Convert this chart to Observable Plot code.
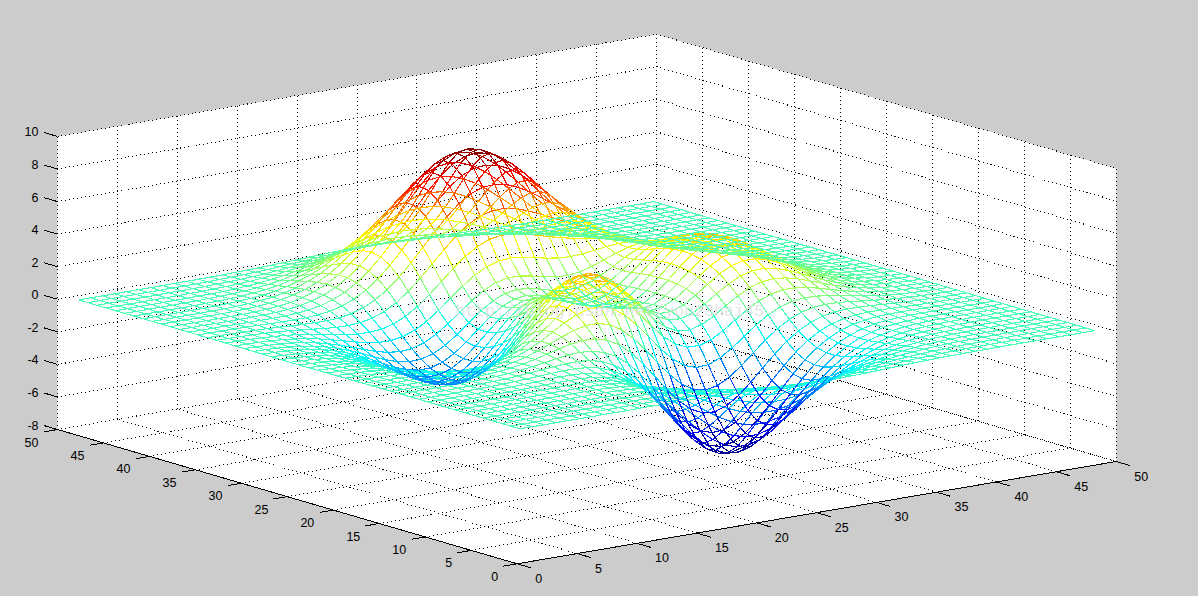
<!DOCTYPE html>
<html>
<head>
<meta charset="utf-8">
<script src="https://cdn.jsdelivr.net/npm/d3@7"></script>
<script src="https://cdn.jsdelivr.net/npm/@observablehq/plot@0.6"></script>
<style>html,body{margin:0;padding:0;background:#ccc}svg{display:block}</style>
</head>
<body>
<script>
// Axis ticks
const xTicks = [0,5,10,15,20,25,30,35,40,45,50];
const yTicks = [0,5,10,15,20,25,30,35,40,45,50];
const zTicks = [-8,-6,-4,-2,0,2,4,6,8,10];
const watermark = "http://blog.csdn.net/you23hai45";
const jetDomain = [-6.55, 8.1];

// Mesh heights: 49 rows (y = 1..49) of 49 values (x = 1..49).
// Typed by hand: the shape was recognised as MATLAB's peaks surface, checked against
// the positions of its extremes in the picture, and tabulated to about 0.02.
const zRows = [
[0,0,0,0,0,0,0,0,0,0, .01,.01,0,0,-.01,-.01,-.03,-.05,-.08,-.10, -.14,-.17,-.20,-.23,-.25,-.25,-.25,-.24,-.22,-.20, -.17,-.14,-.11,-.08,-.06,-.04,-.03,-.02,-.01,-.01, 0,0,0,0,0,0,0,0,0],
[0,0,0,0,0,0,0,0,.01,.01, .01,.01,0,0,-.01,-.03,-.06,-.09,-.14,-.19, -.24,-.30,-.35,-.39,-.42,-.44,-.43,-.41,-.38,-.34, -.29,-.24,-.19,-.14,-.11,-.08,-.05,-.03,-.02,-.01, -.01,0,0,0,0,0,0,0,0],
[0,0,0,0,0,0,0,.01,.01,.01, .01,.01,0,-.01,-.02,-.05,-.10,-.15,-.22,-.30, -.39,-.48,-.56,-.63,-.68,-.70,-.70,-.66,-.61,-.54, -.46,-.38,-.30,-.23,-.17,-.12,-.08,-.06,-.04,-.02, -.01,-.01,-.01,0,0,0,0,0,0],
[0,0,0,0,0,0,.01,.01,.01,.01, .01,.01,0,-.01,-.04,-.09,-.16,-.24,-.35,-.48, -.61,-.75,-.88,-.98,-1.06,-1.09,-1.08,-1.03,-.95,-.84, -.71,-.59,-.46,-.35,-.26,-.18,-.13,-.08,-.05,-.03, -.02,-.01,-.01,0,0,0,0,0,0],
[0,0,0,0,0,.01,.01,.01,.02,.02, .02,.02,0,-.02,-.07,-.13,-.23,-.36,-.52,-.71, -.91,-1.11,-1.30,-1.46,-1.56,-1.61,-1.60,-1.53,-1.40,-1.24, -1.06,-.87,-.69,-.52,-.38,-.27,-.18,-.12,-.08,-.05, -.03,-.02,-.01,-.01,0,0,0,0,0],
[0,0,0,0,.01,.01,.01,.02,.02,.02, .03,.02,0,-.03,-.10,-.19,-.33,-.51,-.74,-1.01, -1.30,-1.58,-1.85,-2.07,-2.23,-2.30,-2.28,-2.18,-2.00,-1.77, -1.51,-1.24,-.98,-.74,-.54,-.38,-.26,-.17,-.10,-.06, -.04,-.02,-.01,-.01,0,0,0,0,0],
[0,0,0,0,.01,.01,.01,.02,.03,.03, .04,.03,.01,-.04,-.12,-.25,-.44,-.69,-1.00,-1.35, -1.74,-2.14,-2.51,-2.81,-3.02,-3.12,-3.10,-2.96,-2.72,-2.41, -2.05,-1.68,-1.32,-1.00,-.74,-.52,-.35,-.22,-.14,-.08, -.05,-.03,-.01,-.01,0,0,0,0,0],
[0,0,0,0,.01,.01,.02,.03,.04,.05, .05,.05,.02,-.04,-.14,-.30,-.54,-.85,-1.24,-1.71, -2.21,-2.73,-3.21,-3.61,-3.90,-4.03,-4.01,-3.83,-3.53,-3.12, -2.65,-2.17,-1.71,-1.30,-.94,-.66,-.44,-.28,-.17,-.10, -.06,-.03,-.01,-.01,0,0,0,0,0],
[0,0,0,0,.01,.01,.02,.03,.05,.06, .07,.07,.04,-.02,-.13,-.32,-.59,-.97,-1.45,-2.01, -2.64,-3.28,-3.88,-4.39,-4.76,-4.94,-4.93,-4.72,-4.35,-3.85, -3.27,-2.68,-2.10,-1.59,-1.15,-.80,-.53,-.34,-.20,-.12, -.06,-.03,-.01,-.01,0,0,0,0,0],
[0,0,0,.01,.01,.02,.03,.04,.06,.08, .10,.10,.09,.04,-.08,-.27,-.58,-1.00,-1.54,-2.20, -2.93,-3.69,-4.41,-5.03,-5.49,-5.73,-5.74,-5.51,-5.08,-4.50, -3.82,-3.12,-2.44,-1.83,-1.32,-.91,-.59,-.37,-.22,-.12, -.06,-.03,-.01,0,0,0,0,0,0],
[0,0,0,.01,.01,.02,.03,.05,.07,.10, .13,.15,.15,.12,.02,-.16,-.46,-.90,-1.48,-2.19, -3.01,-3.86,-4.70,-5.43,-5.98,-6.29,-6.33,-6.10,-5.64,-5.00, -4.24,-3.45,-2.69,-2.00,-1.42,-.96,-.61,-.37,-.20,-.10, -.05,-.01,0,0,.01,0,0,0,0],
[0,0,0,0,.01,.02,.03,.05,.08,.12, .16,.20,.24,.24,.18,.04,-.22,-.63,-1.19,-1.92, -2.77,-3.69,-4.60,-5.42,-6.06,-6.45,-6.55,-6.35,-5.89,-5.22, -4.42,-3.58,-2.76,-2.03,-1.41,-.93,-.57,-.32,-.16,-.06, -.01,.01,.02,.02,.02,.01,.01,0,0],
[0,0,0,0,.01,.01,.03,.05,.08,.13, .19,.26,.33,.38,.39,.33,.15,-.18,-.68,-1.36, -2.18,-3.11,-4.07,-4.96,-5.68,-6.15,-6.32,-6.18,-5.76,-5.11, -4.31,-3.46,-2.63,-1.89,-1.27,-.79,-.44,-.21,-.07,.01, .04,.05,.05,.04,.03,.02,.01,.01,0],
[0,0,0,0,0,0,.01,.03,.07,.12, .19,.29,.41,.53,.63,.67,.61,.41,.04,-.53, -1.28,-2.17,-3.12,-4.05,-4.83,-5.39,-5.65,-5.60,-5.25,-4.65, -3.90,-3.08,-2.29,-1.57,-.98,-.53,-.22,-.03,.08,.12, .12,.11,.08,.06,.04,.03,.02,.01,.01],
[0,-.01,-.01,-.01,-.01,-.02,-.01,0,.03,.08, .17,.29,.45,.64,.84,1.01,1.10,1.08,.88,.48, -.14,-.94,-1.85,-2.77,-3.61,-4.24,-4.60,-4.66,-4.40,-3.90, -3.22,-2.47,-1.74,-1.08,-.56,-.17,.08,.22,.27,.26, .23,.18,.13,.09,.06,.04,.02,.01,.01],
[-.01,-.01,-.02,-.02,-.03,-.04,-.05,-.05,-.03,.01, .09,.23,.42,.68,.98,1.28,1.55,1.73,1.74,1.53, 1.09,.43,-.40,-1.30,-2.16,-2.87,-3.32,-3.48,-3.34,-2.94, -2.36,-1.69,-1.04,-.47,-.02,.29,.46,.52,.50,.44, .35,.27,.19,.13,.09,.05,.03,.02,.01],
[-.01,-.02,-.03,-.04,-.06,-.08,-.10,-.12,-.13,-.11, -.04,.09,.30,.60,.98,1.42,1.86,2.23,2.45,2.47, 2.22,1.72,1.00,.14,-.73,-1.48,-2.02,-2.27,-2.22,-1.92, -1.43,-.85,-.27,.22,.58,.80,.88,.86,.77,.64, .50,.37,.26,.18,.11,.07,.04,.02,.01],
[-.01,-.02,-.04,-.06,-.09,-.13,-.17,-.22,-.26,-.28, -.24,-.14,.07,.39,.83,1.36,1.95,2.50,2.93,3.15, 3.11,2.77,2.16,1.37,.51,-.27,-.86,-1.18,-1.21,-.97, -.54,-.02,.49,.91,1.20,1.34,1.33,1.23,1.06,.85, .66,.48,.34,.22,.14,.09,.05,.03,.02],
[-.02,-.03,-.05,-.08,-.12,-.18,-.26,-.34,-.42,-.49, -.51,-.45,-.28,.03,.50,1.09,1.78,2.48,3.09,3.50, 3.63,3.44,2.95,2.22,1.40,.61,0,-.36,-.41,-.20, .20,.70,1.18,1.56,1.79,1.86,1.78,1.59,1.35,1.08, .82,.60,.41,.28,.18,.11,.06,.04,.02],
[-.02,-.04,-.06,-.10,-.16,-.24,-.35,-.47,-.61,-.73, -.82,-.83,-.72,-.45,0,.63,1.38,2.18,2.92,3.48, 3.76,3.70,3.31,2.66,1.88,1.11,.51,.16,.11,.34, .76,1.27,1.75,2.11,2.31,2.34,2.19,1.94,1.63,1.29, .98,.71,.49,.33,.21,.13,.08,.04,.02],
[-.03,-.05,-.08,-.13,-.20,-.30,-.44,-.61,-.80,-.99, -1.16,-1.25,-1.21,-1.01,-.60,.02,.80,1.66,2.49,3.16, 3.55,3.60,3.31,2.73,2.00,1.27,.69,.39,.39,.67, 1.14,1.67,2.20,2.57,2.76,2.75,2.56,2.25,1.87,1.47, 1.12,.81,.56,.37,.24,.14,.09,.05,.03],
[-.03,-.05,-.09,-.15,-.24,-.36,-.53,-.74,-.98,-1.24, -1.49,-1.66,-1.71,-1.58,-1.23,-.66,.12,1.00,1.89,2.64, 3.11,3.25,3.04,2.53,1.86,1.19,.67,.42,.49,.85, 1.37,1.97,2.53,2.93,3.11,3.08,2.86,2.51,2.09,1.65, 1.24,.90,.62,.41,.26,.16,.09,.05,.03],
[-.03,-.06,-.10,-.17,-.27,-.41,-.60,-.85,-1.14,-1.46, -1.78,-2.03,-2.17,-2.12,-1.84,-1.31,-.56,.32,1.23,2.02, 2.56,2.77,2.63,2.19,1.58,.98,.53,.35,.48,.89, 1.50,2.16,2.76,3.18,3.37,3.33,3.09,2.70,2.25,1.77, 1.34,.97,.67,.44,.28,.17,.10,.06,.03],
[-.04,-.06,-.11,-.18,-.29,-.45,-.66,-.93,-1.26,-1.63, -2.00,-2.32,-2.53,-2.55,-2.34,-1.88,-1.17,-.31,.60,1.41, 2.00,2.26,2.18,1.81,1.27,.74,.35,.23,.43,.90, 1.56,2.27,2.89,3.33,3.53,3.49,3.23,2.82,2.35,1.85, 1.40,1.01,.70,.46,.29,.18,.11,.06,.03],
[-.04,-.07,-.11,-.19,-.30,-.46,-.69,-.98,-1.33,-1.73, -2.14,-2.51,-2.77,-2.86,-2.71,-2.30,-1.65,-.83,.06,.88, 1.48,1.78,1.75,1.45,.98,.51,.19,.13,.38,.89, 1.57,2.30,2.94,3.38,3.58,3.54,3.27,2.86,2.37,1.87, 1.41,1.02,.70,.47,.30,.18,.11,.06,.03],
[-.04,-.07,-.11,-.19,-.30,-.47,-.69,-.99,-1.35,-1.76, -2.20,-2.59,-2.89,-3.02,-2.93,-2.57,-1.98,-1.21,-.36,.43, 1.03,1.36,1.37,1.13,.73,.32,.06,.05,.32,.85, 1.54,2.26,2.89,3.33,3.52,3.48,3.21,2.81,2.33,1.84, 1.39,1.00,.69,.46,.29,.18,.10,.06,.03],
[-.04,-.06,-.11,-.18,-.29,-.45,-.68,-.96,-1.32,-1.73, -2.16,-2.56,-2.88,-3.04,-2.98,-2.68,-2.15,-1.44,-.65,.10, .68,1.01,1.06,.86,.52,.18,-.03,-.01,.28,.80, 1.47,2.16,2.76,3.18,3.36,3.31,3.06,2.68,2.22,1.75, 1.32,.95,.66,.44,.28,.17,.10,.06,.03],
[-.03,-.06,-.10,-.17,-.27,-.42,-.63,-.90,-1.24,-1.63, -2.04,-2.43,-2.74,-2.91,-2.88,-2.63,-2.16,-1.52,-.79,-.10, .45,.77,.84,.69,.41,.13,-.04,0,.28,.77, 1.38,2.02,2.58,2.95,3.12,3.07,2.83,2.47,2.05,1.61, 1.22,.88,.61,.40,.26,.16,.09,.05,.03],
[-.03,-.05,-.09,-.15,-.25,-.38,-.57,-.82,-1.12,-1.47, -1.85,-2.21,-2.49,-2.65,-2.64,-2.42,-2.00,-1.42,-.76,-.13, .39,.71,.80,.69,.46,.23,.09,.13,.38,.80, 1.34,1.90,2.38,2.70,2.83,2.78,2.56,2.23,1.85,1.45, 1.09,.79,.55,.36,.23,.14,.08,.05,.03],
[-.03,-.05,-.08,-.13,-.22,-.33,-.50,-.71,-.98,-1.28, -1.61,-1.92,-2.16,-2.29,-2.27,-2.06,-1.67,-1.13,-.52,.08, .57,.89,1.01,.95,.78,.58,.45,.47,.65,.99, 1.41,1.85,2.22,2.47,2.55,2.48,2.27,1.97,1.62,1.27, .96,.69,.48,.31,.20,.12,.07,.04,.02],
[-.02,-.04,-.07,-.11,-.18,-.28,-.42,-.60,-.82,-1.07, -1.33,-1.58,-1.76,-1.84,-1.78,-1.55,-1.16,-.64,-.05,.54, 1.04,1.39,1.55,1.55,1.42,1.25,1.12,1.08,1.17,1.37, 1.65,1.93,2.17,2.31,2.32,2.21,1.99,1.71,1.40,1.10, .82,.59,.41,.27,.17,.10,.06,.03,.02],
[-.02,-.03,-.05,-.09,-.14,-.22,-.33,-.47,-.65,-.84, -1.03,-1.21,-1.32,-1.33,-1.21,-.94,-.52,.03,.65,1.26, 1.80,2.20,2.43,2.49,2.42,2.27,2.10,1.99,1.95,1.99, 2.08,2.18,2.24,2.24,2.16,2.00,1.76,1.49,1.20,.93, .69,.49,.34,.22,.14,.09,.05,.03,.02],
[-.01,-.02,-.04,-.07,-.11,-.17,-.25,-.36,-.48,-.61, -.74,-.84,-.86,-.80,-.60,-.26,.23,.83,1.51,2.19, 2.80,3.28,3.59,3.72,3.69,3.55,3.34,3.13,2.94,2.78, 2.66,2.55,2.44,2.28,2.09,1.85,1.58,1.30,1.04,.79, .58,.41,.28,.18,.11,.07,.04,.02,.01],
[-.01,-.02,-.03,-.05,-.08,-.12,-.18,-.25,-.33,-.41, -.47,-.48,-.43,-.28,0,.43,.99,1.67,2.43,3.19, 3.89,4.46,4.86,5.06,5.08,4.94,4.68,4.36,4.01,3.66, 3.33,3.01,2.70,2.39,2.07,1.76,1.45,1.16,.90,.67, .49,.34,.23,.15,.09,.06,.03,.02,.01],
[-.01,-.01,-.02,-.04,-.06,-.08,-.12,-.16,-.20,-.22, -.22,-.18,-.05,.19,.55,1.05,1.70,2.46,3.29,4.13, 4.92,5.58,6.07,6.34,6.39,6.25,5.94,5.52,5.02,4.50, 3.97,3.46,2.97,2.51,2.09,1.70,1.35,1.05,.79,.58, .41,.28,.19,.12,.07,.04,.02,.01,.01],
[-.01,-.01,-.01,-.02,-.03,-.05,-.07,-.08,-.09,-.08, -.03,.07,.26,.56,.98,1.55,2.25,3.07,3.97,4.87, 5.73,6.46,7.01,7.33,7.41,7.27,6.92,6.41,5.81,5.14, 4.46,3.80,3.17,2.60,2.09,1.65,1.27,.96,.70,.50, .35,.23,.15,.10,.06,.03,.02,.01,.01],
[0,-.01,-.01,-.01,-.02,-.03,-.03,-.03,-.01,.03, .11,.25,.48,.81,1.27,1.87,2.61,3.45,4.37,5.31, 6.19,6.96,7.54,7.89,7.99,7.85,7.48,6.93,6.25,5.50, 4.72,3.96,3.25,2.61,2.05,1.58,1.19,.87,.62,.43, .29,.19,.12,.08,.05,.03,.02,.01,0],
[0,0,0,-.01,-.01,-.01,0,.01,.04,.10, .20,.36,.60,.95,1.42,2.02,2.74,3.58,4.48,5.39, 6.27,7.02,7.60,7.96,8.07,7.93,7.56,7.00,6.30,5.52, 4.71,3.92,3.18,2.52,1.95,1.47,1.08,.78,.55,.37, .25,.16,.10,.06,.04,.02,.01,.01,0],
[0,0,0,0,0,0,.01,.03,.07,.13, .24,.41,.65,.98,1.43,2.00,2.67,3.45,4.29,5.15, 5.96,6.67,7.22,7.57,7.68,7.55,7.20,6.66,5.99,5.23, 4.45,3.68,2.96,2.32,1.78,1.32,.96,.68,.47,.31, .21,.13,.08,.05,.03,.02,.01,0,0],
[0,0,0,0,0,.01,.02,.04,.08,.15, .25,.40,.62,.93,1.33,1.83,2.43,3.12,3.87,4.62, 5.34,5.98,6.47,6.78,6.88,6.76,6.45,5.97,5.36,4.68, 3.97,3.27,2.62,2.04,1.55,1.14,.82,.58,.39,.26, .17,.10,.06,.04,.02,.01,.01,0,0],
[0,0,0,0,0,.01,.02,.04,.08,.14, .23,.36,.55,.82,1.16,1.59,2.10,2.68,3.31,3.95, 4.56,5.09,5.51,5.77,5.86,5.76,5.50,5.09,4.57,3.98, 3.37,2.77,2.21,1.72,1.29,.95,.68,.47,.32,.21, .13,.08,.05,.03,.02,.01,.01,0,0],
[0,0,0,0,0,.01,.02,.04,.07,.12, .19,.31,.46,.68,.95,1.30,1.71,2.18,2.68,3.20, 3.69,4.12,4.45,4.67,4.74,4.66,4.45,4.11,3.69,3.22, 2.72,2.23,1.78,1.37,1.03,.75,.53,.37,.25,.16, .10,.06,.04,.02,.01,.01,0,0,0],
[0,0,0,0,0,.01,.02,.03,.06,.10, .16,.24,.36,.53,.74,1.01,1.32,1.68,2.07,2.46, 2.84,3.17,3.43,3.59,3.65,3.59,3.43,3.17,2.84,2.48, 2.09,1.71,1.36,1.05,.79,.57,.41,.28,.19,.12, .08,.05,.03,.02,.01,.01,0,0,0],
[0,0,0,0,0,.01,.01,.03,.04,.07, .12,.18,.27,.39,.55,.74,.97,1.24,1.52,1.81, 2.09,2.33,2.52,2.64,2.68,2.64,2.52,2.33,2.09,1.82, 1.53,1.25,1.00,.77,.58,.42,.29,.20,.13,.09, .05,.03,.02,.01,.01,0,0,0,0],
[0,0,0,0,0,.01,.01,.02,.03,.05, .08,.13,.19,.28,.39,.52,.69,.87,1.07,1.27, 1.46,1.63,1.77,1.85,1.88,1.85,1.77,1.63,1.46,1.27, 1.07,.88,.70,.54,.40,.29,.20,.14,.09,.06, .04,.02,.01,.01,0,0,0,0,0],
[0,0,0,0,0,0,.01,.01,.02,.04, .06,.09,.13,.19,.27,.36,.47,.59,.72,.86, .99,1.10,1.19,1.25,1.27,1.25,1.19,1.10,.99,.86, .72,.59,.47,.36,.27,.19,.13,.09,.06,.04, .02,.01,.01,0,0,0,0,0,0],
[0,0,0,0,0,0,.01,.01,.02,.02, .04,.06,.09,.12,.17,.23,.30,.38,.47,.55, .64,.71,.77,.81,.82,.81,.77,.71,.64,.55, .47,.38,.30,.23,.17,.12,.09,.06,.04,.02, .02,.01,0,0,0,0,0,0,0],
[0,0,0,0,0,0,0,.01,.01,.02, .02,.04,.05,.08,.11,.14,.19,.24,.29,.35, .40,.44,.48,.50,.51,.50,.48,.44,.40,.35, .29,.24,.19,.14,.11,.08,.05,.04,.02,.02, .01,.01,0,0,0,0,0,0,0],
[0,0,0,0,0,0,0,0,.01,.01, .01,.02,.03,.05,.06,.08,.11,.14,.17,.20, .23,.26,.28,.30,.30,.30,.28,.26,.23,.20, .17,.14,.11,.08,.06,.05,.03,.02,.01,.01, .01,0,0,0,0,0,0,0,0]
];

// Orthographic view: screen position of a data point
const project = (x, y, z) => [
  516.7 + 11.98 * x - 9.194 * y,
  563.3 - 2.046 * x - 2.686 * y - 16.28 * (z + 8)
];
const seg = (a, b) => {
  const [x1, y1] = project(...a), [x2, y2] = project(...b);
  return {x1, y1, x2, y2};
};

// White box walls and floor
const outline = [[0,50,10],[50,50,10],[50,0,10],[50,0,-8],[0,0,-8],[0,50,-8]].map(p => project(...p));

// Dotted grid
const grid = [];
for (const t of xTicks) {
  grid.push(seg([t,0,-8],[t,50,-8]), seg([t,50,-8],[t,50,10]));
}
for (const t of yTicks) {
  grid.push(seg([0,t,-8],[50,t,-8]), seg([50,t,-8],[50,t,10]));
}
for (const t of zTicks) {
  grid.push(seg([0,50,t],[50,50,t]), seg([50,50,t],[50,0,t]));
}

// Solid axes and tick marks
const axes = [seg([0,0,-8],[50,0,-8]), seg([0,0,-8],[0,50,-8])];
for (const t of xTicks) axes.push(seg([t,0,-8],[t,-1.5,-8]));
for (const t of yTicks) axes.push(seg([0,t,-8],[-1.15,t,-8]));
for (const t of zTicks) axes.push(seg([0,50,t],[0,51.5,t]));

// Tick labels
const labels = [];
for (const t of xTicks) { const [x,y] = project(t,0,-8); labels.push({x:x+18, y:y+15, t:String(t), a:"start"}); }
for (const t of yTicks) { const [x,y] = project(0,t,-8); labels.push({x:x-19, y:y+13, t:String(t), a:"end"}); }
for (const t of zTicks) { const [x,y] = project(0,50,t); labels.push({x:x-19, y:y-4, t:String(t), a:"end"}); }

// Mesh segments, coloured by height
const mesh = [];
zRows.forEach((row, j) => row.forEach((z, i) => {
  if (i + 1 < row.length) mesh.push({...seg([i+1,j+1,z],[i+2,j+1,row[i+1]]), z});
  if (j + 1 < zRows.length) mesh.push({...seg([i+1,j+1,z],[i+1,j+2,zRows[j+1][i]]), z});
}));

const clamp = v => Math.max(0, Math.min(1, v));
const jet = t => `rgb(${[3,2,1].map(k => Math.round(255 * clamp(1.5 - Math.abs(4 * t - k)))).join(",")})`;

const chart = Plot.plot({
  width: 1198,
  height: 596,
  margin: 0,
  style: {background: "#cccccc"},
  x: {domain: [0, 1198], range: [0, 1198], axis: null},
  y: {domain: [0, 596], range: [0, 596], axis: null},
  color: {type: "linear", domain: jetDomain, interpolate: jet},
  marks: [
    Plot.line(outline, {x: d => d[0], y: d => d[1], fill: "white", stroke: "none"}),
    Plot.link(grid, {x1:"x1", y1:"y1", x2:"x2", y2:"y2", stroke:"black", strokeWidth:1, strokeDasharray:"1 3", shapeRendering:"crispEdges"}),
    Plot.link(axes, {x1:"x1", y1:"y1", x2:"x2", y2:"y2", stroke:"black", strokeWidth:1, shapeRendering:"crispEdges"}),
    Plot.link(mesh, {x1:"x1", y1:"y1", x2:"x2", y2:"y2", stroke:"z", strokeWidth:1.15, shapeRendering:"crispEdges"}),
    Plot.text([watermark], {x: () => 609, y: () => 310, text: d => d, fill:"#dcdcdc", fillOpacity:0.8, fontSize:16.6, fontFamily:"Liberation Mono", textAnchor:"middle"}),
    Plot.text(labels.filter(d => d.a === "start"), {x:"x", y:"y", text:"t", fill:"black", fontSize:12.5, fontFamily:"Liberation Sans", textAnchor:"start"}),
    Plot.text(labels.filter(d => d.a === "end"), {x:"x", y:"y", text:"t", fill:"black", fontSize:12.5, fontFamily:"Liberation Sans", textAnchor:"end"})
  ]
});
document.body.appendChild(chart);
</script>
</body>
</html>
